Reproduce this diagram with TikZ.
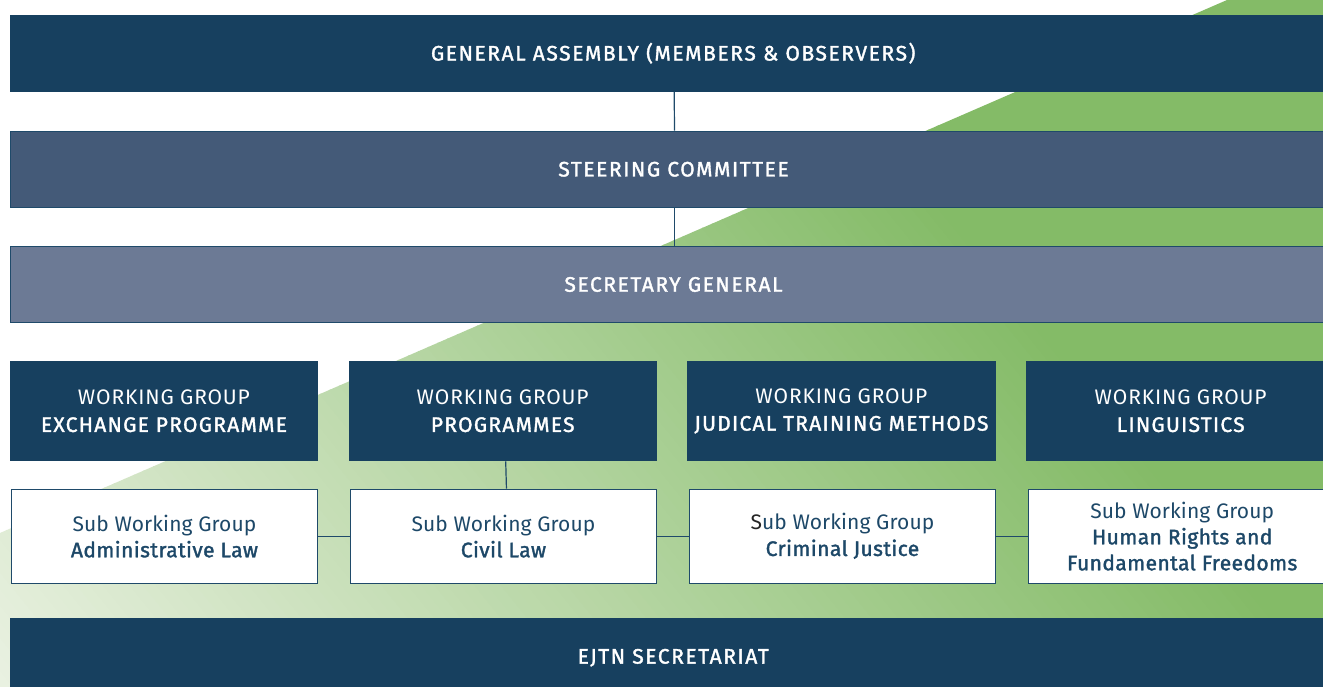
\documentclass[tikz,border=0pt]{standalone}
\usepackage{fontspec}
\setmainfont{Fira Sans}[BoldFont={Fira Sans}, BoldFeatures={FakeBold=1.6}]
\definecolor{navy}{HTML}{17405F}
\definecolor{steer}{HTML}{445A78}
\definecolor{secgen}{HTML}{6C7A95}
\definecolor{edge}{HTML}{1F4A6A}
\definecolor{subtext}{HTML}{1D4868}
\definecolor{gl}{HTML}{E9F1E1}
\definecolor{gg}{HTML}{84BB67}
\newcommand{\capsfont}{\fontsize{21}{27}\selectfont\addfontfeatures{LetterSpace=7.5}}
\newcommand{\wgbold}[1]{{\addfontfeatures{LetterSpace=6}\bfseries #1}}
\newcommand{\subbold}[1]{{\addfontfeatures{LetterSpace=2}\bfseries #1}}
\tikzset{
  bar/.style={anchor=north west, inner sep=0pt, text=white, align=center,
    font=\capsfont\bfseries},
  wgbox/.style={anchor=north west, inner sep=0pt, fill=navy, text=white, align=center,
    minimum height=100pt, font=\fontsize{21}{27}\selectfont\addfontfeatures{LetterSpace=4}},
  subbox/.style={anchor=north west, inner sep=0pt, fill=white, draw=edge, line width=1.4pt,
    text=subtext, align=center, minimum height=94pt, minimum width=306.5pt,
    font=\fontsize{21}{26}\selectfont\addfontfeatures{LetterSpace=0.5}},
  link/.style={draw=edge, line width=1.2pt}
}
\begin{document}
\begin{tikzpicture}[x=1pt,y=-1pt]
\useasboundingbox (0,0) rectangle (1323,686);
\fill[white] (0,0) rectangle (1323,686);
\begin{scope}
  \clip (0,0) rectangle (1323,686);
  \begin{scope}
    \clip (0,533) -- (1227,0) -- (1330,0) -- (1330,690) -- (0,690) -- cycle;
    \begin{scope}[shift={(0,686)}, rotate=39]
      \foreach \i in {0,...,104} {
        \pgfmathsetmacro{\p}{min(100,\i*100/100)}
        \fill[gg!\p!gl] (\i*10.3-0.5, -2000) rectangle (\i*10.3+11, 2000);
      }
      \fill[gg] (1080,-2000) rectangle (1800,2000);
    \end{scope}
  \end{scope}

  \node[bar, fill=navy, minimum width=1327pt, minimum height=77pt] (ga) at (9.5,14.5) {GENERAL ASSEMBLY (MEMBERS \& OBSERVERS)};
  \node[bar, fill=steer, draw=edge, line width=1pt, minimum width=1327pt, minimum height=76.5pt] (sc) at (9.5,130.5) {STEERING COMMITTEE};
  \node[bar, fill=secgen, draw=edge, line width=1pt, minimum width=1327pt, minimum height=76pt] (sg) at (9.5,246) {SECRETARY GENERAL};

  \node[wgbox, minimum width=308.5pt] (wg1) at (9.5,361) {WORKING GROUP\\\wgbold{EXCHANGE PROGRAMME}};
  \node[wgbox, minimum width=308pt] (wg2) at (348.5,361) {WORKING GROUP\\\wgbold{PROGRAMMES}};
  \node[wgbox, minimum width=308.5pt] (wg3) at (687,361) {WORKING GROUP\\\wgbold{JUDICAL TRAINING METHODS}};
  \node[wgbox, minimum width=309pt] (wg4) at (1026,361) {WORKING GROUP\\\wgbold{LINGUISTICS}};

  \node[subbox] (s1) at (10.5,488.5) {Sub Working Group\\\subbold{Administrative Law}};
  \node[subbox] (s2) at (349.5,488.5) {Sub Working Group\\\subbold{Civil Law}};
  \node[subbox] (s3) at (688.5,488.5) {{\color{black!85}S}ub Working Group\\\subbold{Criminal Justice}};
  \node[subbox, minimum width=308pt] (s4) at (1027.5,488.5) {Sub Working Group\\\subbold{Human Rights and}\\\subbold{Fundamental Freedoms}};

  \node[bar, fill=navy, minimum width=1327pt, minimum height=80pt] (ej) at (9.5,617.5) {EJTN SECRETARIAT};

  \draw[link] ([xshift=1pt]ga.south) -- ([xshift=1pt]sc.north);
  \draw[link] ([xshift=1pt]sc.south) -- ([xshift=1pt]sg.north);
  \draw[link] ([xshift=3pt]wg2.south) -- ([xshift=3pt]s2.north);
  \draw[link] (s1.east) -- (s2.west);
  \draw[link] (s2.east) -- (s3.west);
  \draw[link] (s3.east) -- (s4.west);
\end{scope}
\end{tikzpicture}
\end{document}
